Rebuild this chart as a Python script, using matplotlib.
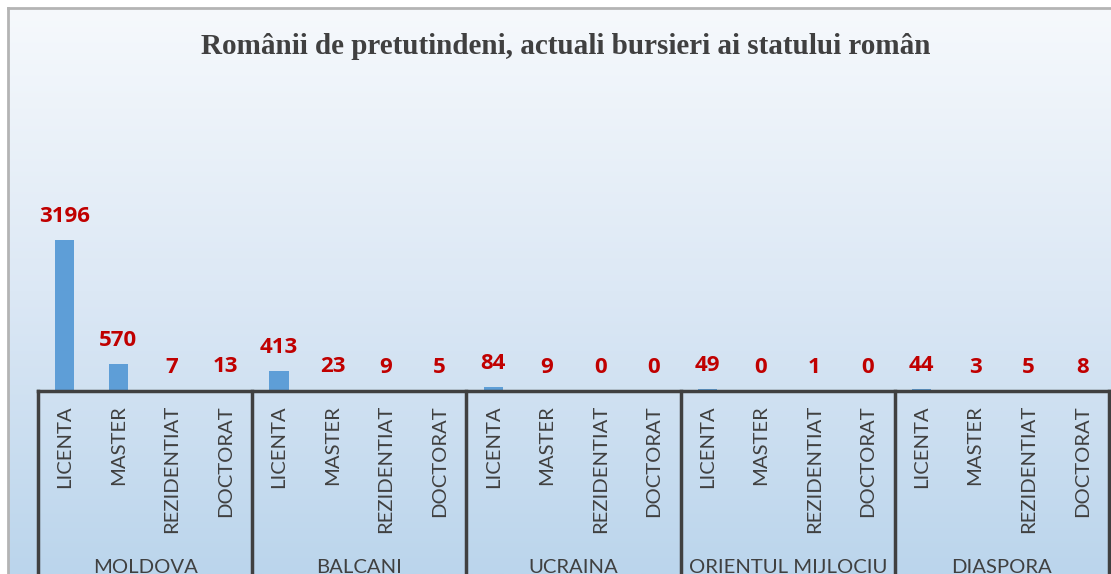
import numpy as np
import matplotlib
matplotlib.use("Agg")
import matplotlib.pyplot as plt
from matplotlib.colors import LinearSegmentedColormap
from matplotlib.lines import Line2D
import matplotlib.transforms as mtransforms

# data
groups = ["MOLDOVA", "BALCANI", "UCRAINA", "ORIENTUL MIJLOCIU", "DIASPORA"]
levels = ["LICENTA", "MASTER", "REZIDENTIAT", "DOCTORAT"]
moldova = [3196, 570, 7, 13]
balcani = [413, 23, 9, 5]
ucraina = [84, 9, 0, 0]
orient = [49, 0, 1, 0]
diaspora = [44, 3, 5, 8]
values = moldova + balcani + ucraina + orient + diaspora

W, H = 1111, 574
fig = plt.figure(figsize=(W / 100, H / 100), dpi=100)

# gradient background inside the chart frame
bg = fig.add_axes([9 / W, 0, 1 - 9 / W, 1 - 9 / H], zorder=0)
cmap = LinearSegmentedColormap.from_list("bgc", ["#F6F9FC", "#DCE8F5", "#BBD5EC"])
grad = np.linspace(0, 1, 256).reshape(-1, 1)
bg.imshow(grad, aspect="auto", cmap=cmap, extent=[0, 1, 0, 1], origin="upper")
bg.set_axis_off()

# frame border (top and left, rest is cropped)
fig.add_artist(Line2D([8 / W, 1.01], [1 - 8 / H, 1 - 8 / H], color="#B4B4B4", lw=2))
fig.add_artist(Line2D([8 / W, 8 / W], [-0.01, 1 - 8 / H], color="#B4B4B4", lw=2))

# plot area
left, right = 38, 1109
base = 391
ymax = 6000
px_per_unit = 151 / 3196
ax_h = ymax * px_per_unit
ax = fig.add_axes([left / W, (H - base) / H, (right - left) / W, ax_h / H], zorder=2)
ax.patch.set_alpha(0)
for s in ax.spines.values():
    s.set_visible(False)
ax.set_xticks([])
ax.set_yticks([])

x = np.arange(len(values))
ax.bar(x, values, width=0.36, color="#5E9ED7", zorder=3)
ax.set_xlim(-0.5, len(values) - 0.5)
ax.set_ylim(0, ymax)

for xi, v in zip(x, values):
    ax.annotate(str(v), xy=(xi, v), xytext=(0, 13), textcoords="offset points",
                ha="center", va="baseline", color="#C00000", fontsize=16,
                fontweight="bold", family="Open Sans")

# multi level category axis
trans = mtransforms.blended_transform_factory(ax.transData, ax.transAxes)
ax.plot([-0.5, len(values) - 0.5], [0, 0], transform=trans, color="#404040",
        lw=2.5, clip_on=False, zorder=4, solid_capstyle="projecting")
for k in range(len(groups) + 1):
    xb = -0.5 + 4 * k
    ax.plot([xb, xb], [0, -1], transform=trans, color="#404040", lw=2.5,
            clip_on=False, zorder=4)

for xi in x:
    ax.annotate(levels[xi % 4], xy=(xi, 0), xycoords=trans, xytext=(0, -10),
                textcoords="offset points", rotation=90, ha="center", va="top",
                color="#404040", fontsize=14.6, family="Lato")

for k, g in enumerate(groups):
    ax.annotate(g, xy=(4 * k + 1.5, 0), xycoords=trans, xytext=(0, -127),
                textcoords="offset points", ha="center", va="center",
                color="#404040", fontsize=14.6, family="Lato")

fig.text(566 / W, 1 - 47 / H, "Românii de pretutindeni, actuali bursieri ai statului român",
         ha="center", va="center", fontsize=21, fontweight="bold",
         family="Liberation Serif", color="#404040")

fig.savefig("out.png", dpi=100)
